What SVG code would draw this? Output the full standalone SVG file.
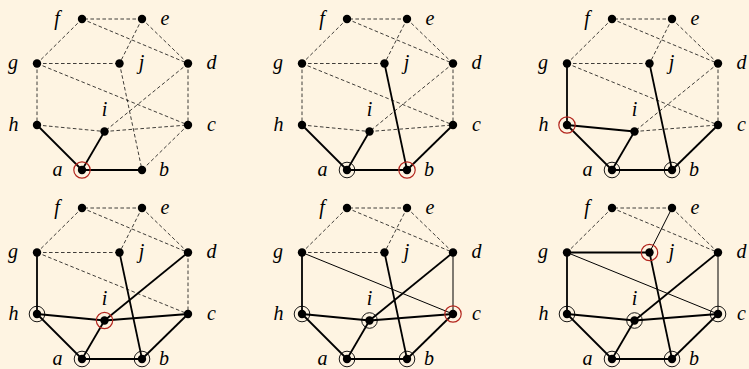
<svg xmlns="http://www.w3.org/2000/svg" width="749" height="369" viewBox="0 0 749 369">
<style>
.bg{fill:#FEF4E2}
.da{stroke:#000;stroke-width:0.75;stroke-dasharray:3.6 2.4;fill:none}
.tk{stroke:#000;stroke-width:1.8;fill:none}
.tn{stroke:#000;stroke-width:1;fill:none}
.dot{fill:#000}
.rb{fill:none;stroke:#000;stroke-width:0.9}
.rr{fill:none;stroke:#B3261E;stroke-width:1.2}
</style>
<rect class="bg" x="0" y="0" width="749" height="369"/>
<g font-family="Liberation Serif, Times New Roman, serif" font-style="italic" font-size="20" text-anchor="middle" fill="#000">

<!-- Panel 1 -->
<g id="panel1" transform="translate(0,0)">
<g id="p1-connectors">
<line class="da" x1="142" y1="19" x2="82" y2="19"/>
<line class="da" x1="82" y1="19" x2="37" y2="63.5"/>
<line class="da" x1="82" y1="19" x2="188" y2="63.5"/>
<line class="da" x1="142" y1="19" x2="119.5" y2="63.5"/>
<line class="da" x1="142" y1="19" x2="188" y2="63.5"/>
<line class="da" x1="37" y1="63.5" x2="119.5" y2="63.5"/>
<line class="da" x1="37" y1="63.5" x2="37" y2="125"/>
<line class="da" x1="37" y1="63.5" x2="188" y2="125"/>
<line class="da" x1="119.5" y1="63.5" x2="142" y2="170"/>
<line class="da" x1="188" y1="63.5" x2="104.5" y2="131.5"/>
<line class="da" x1="188" y1="63.5" x2="188" y2="125"/>
<line class="da" x1="37" y1="125" x2="104.5" y2="131.5"/>
<line class="da" x1="104.5" y1="131.5" x2="188" y2="125"/>
<line class="da" x1="188" y1="125" x2="142" y2="170"/>
<line class="tk" x1="82" y1="170" x2="37" y2="125"/>
<line class="tk" x1="82" y1="170" x2="104.5" y2="131.5"/>
<line class="tk" x1="82" y1="170" x2="142" y2="170"/>
</g>
<g id="p1-f"><circle class="dot" cx="82" cy="19" r="4.2"/><text x="57" y="25">f</text></g>
<g id="p1-e"><circle class="dot" cx="142" cy="19" r="4.2"/><text x="165" y="25">e</text></g>
<g id="p1-g"><circle class="dot" cx="37" cy="63.5" r="4.2"/><text x="13" y="69">g</text></g>
<g id="p1-j"><circle class="dot" cx="119.5" cy="63.5" r="4.2"/><text x="141.5" y="69">j</text></g>
<g id="p1-d"><circle class="dot" cx="188" cy="63.5" r="4.2"/><text x="211.5" y="69">d</text></g>
<g id="p1-h"><circle class="dot" cx="37" cy="125" r="4.2"/><text x="13.5" y="130.5">h</text></g>
<g id="p1-i"><circle class="dot" cx="104.5" cy="131.5" r="4.2"/><text x="104.5" y="115.5">i</text></g>
<g id="p1-c"><circle class="dot" cx="188" cy="125" r="4.2"/><text x="211.5" y="130.5">c</text></g>
<g id="p1-a"><circle class="dot" cx="82" cy="170" r="4.2"/><circle class="rr" cx="82" cy="170" r="8.2"/><text x="57.5" y="175.5">a</text></g>
<g id="p1-b"><circle class="dot" cx="142" cy="170" r="4.2"/><text x="164" y="175.5">b</text></g>
</g>

<!-- Panel 2 -->
<g id="panel2" transform="translate(265,0)">
<g id="p2-connectors">
<line class="da" x1="142" y1="19" x2="82" y2="19"/>
<line class="da" x1="82" y1="19" x2="37" y2="63.5"/>
<line class="da" x1="82" y1="19" x2="188" y2="63.5"/>
<line class="da" x1="142" y1="19" x2="119.5" y2="63.5"/>
<line class="da" x1="142" y1="19" x2="188" y2="63.5"/>
<line class="da" x1="37" y1="63.5" x2="119.5" y2="63.5"/>
<line class="da" x1="37" y1="63.5" x2="37" y2="125"/>
<line class="da" x1="37" y1="63.5" x2="188" y2="125"/>
<line class="da" x1="188" y1="63.5" x2="104.5" y2="131.5"/>
<line class="da" x1="188" y1="63.5" x2="188" y2="125"/>
<line class="da" x1="37" y1="125" x2="104.5" y2="131.5"/>
<line class="da" x1="104.5" y1="131.5" x2="188" y2="125"/>
<line class="tk" x1="119.5" y1="63.5" x2="142" y2="170"/>
<line class="tk" x1="188" y1="125" x2="142" y2="170"/>
<line class="tk" x1="82" y1="170" x2="37" y2="125"/>
<line class="tk" x1="82" y1="170" x2="104.5" y2="131.5"/>
<line class="tk" x1="82" y1="170" x2="142" y2="170"/>
</g>
<g id="p2-f"><circle class="dot" cx="82" cy="19" r="4.2"/><text x="57" y="25">f</text></g>
<g id="p2-e"><circle class="dot" cx="142" cy="19" r="4.2"/><text x="165" y="25">e</text></g>
<g id="p2-g"><circle class="dot" cx="37" cy="63.5" r="4.2"/><text x="13" y="69">g</text></g>
<g id="p2-j"><circle class="dot" cx="119.5" cy="63.5" r="4.2"/><text x="141.5" y="69">j</text></g>
<g id="p2-d"><circle class="dot" cx="188" cy="63.5" r="4.2"/><text x="211.5" y="69">d</text></g>
<g id="p2-h"><circle class="dot" cx="37" cy="125" r="4.2"/><text x="13.5" y="130.5">h</text></g>
<g id="p2-i"><circle class="dot" cx="104.5" cy="131.5" r="4.2"/><text x="104.5" y="115.5">i</text></g>
<g id="p2-c"><circle class="dot" cx="188" cy="125" r="4.2"/><text x="211.5" y="130.5">c</text></g>
<g id="p2-a"><circle class="dot" cx="82" cy="170" r="4.2"/><circle class="rb" cx="82" cy="170" r="7.8"/><text x="57.5" y="175.5">a</text></g>
<g id="p2-b"><circle class="dot" cx="142" cy="170" r="4.2"/><circle class="rr" cx="142" cy="170" r="8.2"/><text x="164" y="175.5">b</text></g>
</g>

<!-- Panel 3 -->
<g id="panel3" transform="translate(530,0)">
<g id="p3-connectors">
<line class="da" x1="142" y1="19" x2="82" y2="19"/>
<line class="da" x1="82" y1="19" x2="37" y2="63.5"/>
<line class="da" x1="82" y1="19" x2="188" y2="63.5"/>
<line class="da" x1="142" y1="19" x2="119.5" y2="63.5"/>
<line class="da" x1="142" y1="19" x2="188" y2="63.5"/>
<line class="da" x1="37" y1="63.5" x2="119.5" y2="63.5"/>
<line class="da" x1="37" y1="63.5" x2="188" y2="125"/>
<line class="da" x1="188" y1="63.5" x2="104.5" y2="131.5"/>
<line class="da" x1="188" y1="63.5" x2="188" y2="125"/>
<line class="da" x1="104.5" y1="131.5" x2="188" y2="125"/>
<line class="tk" x1="37" y1="63.5" x2="37" y2="125"/>
<line class="tk" x1="37" y1="125" x2="104.5" y2="131.5"/>
<line class="tk" x1="119.5" y1="63.5" x2="142" y2="170"/>
<line class="tk" x1="188" y1="125" x2="142" y2="170"/>
<line class="tk" x1="82" y1="170" x2="37" y2="125"/>
<line class="tk" x1="82" y1="170" x2="104.5" y2="131.5"/>
<line class="tk" x1="82" y1="170" x2="142" y2="170"/>
</g>
<g id="p3-f"><circle class="dot" cx="82" cy="19" r="4.2"/><text x="57" y="25">f</text></g>
<g id="p3-e"><circle class="dot" cx="142" cy="19" r="4.2"/><text x="165" y="25">e</text></g>
<g id="p3-g"><circle class="dot" cx="37" cy="63.5" r="4.2"/><text x="13" y="69">g</text></g>
<g id="p3-j"><circle class="dot" cx="119.5" cy="63.5" r="4.2"/><text x="141.5" y="69">j</text></g>
<g id="p3-d"><circle class="dot" cx="188" cy="63.5" r="4.2"/><text x="211.5" y="69">d</text></g>
<g id="p3-h"><circle class="dot" cx="37" cy="125" r="4.2"/><circle class="rr" cx="37" cy="125" r="8.2"/><text x="13.5" y="130.5">h</text></g>
<g id="p3-i"><circle class="dot" cx="104.5" cy="131.5" r="4.2"/><text x="104.5" y="115.5">i</text></g>
<g id="p3-c"><circle class="dot" cx="188" cy="125" r="4.2"/><text x="211.5" y="130.5">c</text></g>
<g id="p3-a"><circle class="dot" cx="82" cy="170" r="4.2"/><circle class="rb" cx="82" cy="170" r="7.8"/><text x="57.5" y="175.5">a</text></g>
<g id="p3-b"><circle class="dot" cx="142" cy="170" r="4.2"/><circle class="rb" cx="142" cy="170" r="7.8"/><text x="164" y="175.5">b</text></g>
</g>

<!-- Panel 4 -->
<g id="panel4" transform="translate(0,189)">
<g id="p4-connectors">
<line class="da" x1="142" y1="19" x2="82" y2="19"/>
<line class="da" x1="82" y1="19" x2="37" y2="63.5"/>
<line class="da" x1="82" y1="19" x2="188" y2="63.5"/>
<line class="da" x1="142" y1="19" x2="119.5" y2="63.5"/>
<line class="da" x1="142" y1="19" x2="188" y2="63.5"/>
<line class="da" x1="37" y1="63.5" x2="119.5" y2="63.5"/>
<line class="da" x1="37" y1="63.5" x2="188" y2="125"/>
<line class="da" x1="188" y1="63.5" x2="188" y2="125"/>
<line class="tk" x1="188" y1="63.5" x2="104.5" y2="131.5"/>
<line class="tk" x1="104.5" y1="131.5" x2="188" y2="125"/>
<line class="tk" x1="37" y1="63.5" x2="37" y2="125"/>
<line class="tk" x1="37" y1="125" x2="104.5" y2="131.5"/>
<line class="tk" x1="119.5" y1="63.5" x2="142" y2="170"/>
<line class="tk" x1="188" y1="125" x2="142" y2="170"/>
<line class="tk" x1="82" y1="170" x2="37" y2="125"/>
<line class="tk" x1="82" y1="170" x2="104.5" y2="131.5"/>
<line class="tk" x1="82" y1="170" x2="142" y2="170"/>
</g>
<g id="p4-f"><circle class="dot" cx="82" cy="19" r="4.2"/><text x="57" y="25">f</text></g>
<g id="p4-e"><circle class="dot" cx="142" cy="19" r="4.2"/><text x="165" y="25">e</text></g>
<g id="p4-g"><circle class="dot" cx="37" cy="63.5" r="4.2"/><text x="13" y="69">g</text></g>
<g id="p4-j"><circle class="dot" cx="119.5" cy="63.5" r="4.2"/><text x="141.5" y="69">j</text></g>
<g id="p4-d"><circle class="dot" cx="188" cy="63.5" r="4.2"/><text x="211.5" y="69">d</text></g>
<g id="p4-h"><circle class="dot" cx="37" cy="125" r="4.2"/><circle class="rb" cx="37" cy="125" r="7.8"/><text x="13.5" y="130.5">h</text></g>
<g id="p4-i"><circle class="dot" cx="104.5" cy="131.5" r="4.2"/><circle class="rr" cx="104.5" cy="131.5" r="8.2"/><text x="104.5" y="115.5">i</text></g>
<g id="p4-c"><circle class="dot" cx="188" cy="125" r="4.2"/><text x="211.5" y="130.5">c</text></g>
<g id="p4-a"><circle class="dot" cx="82" cy="170" r="4.2"/><circle class="rb" cx="82" cy="170" r="7.8"/><text x="57.5" y="175.5">a</text></g>
<g id="p4-b"><circle class="dot" cx="142" cy="170" r="4.2"/><circle class="rb" cx="142" cy="170" r="7.8"/><text x="164" y="175.5">b</text></g>
</g>

<!-- Panel 5 -->
<g id="panel5" transform="translate(265,189)">
<g id="p5-connectors">
<line class="da" x1="142" y1="19" x2="82" y2="19"/>
<line class="da" x1="82" y1="19" x2="37" y2="63.5"/>
<line class="da" x1="82" y1="19" x2="188" y2="63.5"/>
<line class="da" x1="142" y1="19" x2="119.5" y2="63.5"/>
<line class="da" x1="142" y1="19" x2="188" y2="63.5"/>
<line class="da" x1="37" y1="63.5" x2="119.5" y2="63.5"/>
<line class="tn" x1="37" y1="63.5" x2="188" y2="125"/>
<line class="tn" x1="188" y1="63.5" x2="188" y2="125"/>
<line class="tk" x1="188" y1="63.5" x2="104.5" y2="131.5"/>
<line class="tk" x1="104.5" y1="131.5" x2="188" y2="125"/>
<line class="tk" x1="37" y1="63.5" x2="37" y2="125"/>
<line class="tk" x1="37" y1="125" x2="104.5" y2="131.5"/>
<line class="tk" x1="119.5" y1="63.5" x2="142" y2="170"/>
<line class="tk" x1="188" y1="125" x2="142" y2="170"/>
<line class="tk" x1="82" y1="170" x2="37" y2="125"/>
<line class="tk" x1="82" y1="170" x2="104.5" y2="131.5"/>
<line class="tk" x1="82" y1="170" x2="142" y2="170"/>
</g>
<g id="p5-f"><circle class="dot" cx="82" cy="19" r="4.2"/><text x="57" y="25">f</text></g>
<g id="p5-e"><circle class="dot" cx="142" cy="19" r="4.2"/><text x="165" y="25">e</text></g>
<g id="p5-g"><circle class="dot" cx="37" cy="63.5" r="4.2"/><text x="13" y="69">g</text></g>
<g id="p5-j"><circle class="dot" cx="119.5" cy="63.5" r="4.2"/><text x="141.5" y="69">j</text></g>
<g id="p5-d"><circle class="dot" cx="188" cy="63.5" r="4.2"/><text x="211.5" y="69">d</text></g>
<g id="p5-h"><circle class="dot" cx="37" cy="125" r="4.2"/><circle class="rb" cx="37" cy="125" r="7.8"/><text x="13.5" y="130.5">h</text></g>
<g id="p5-i"><circle class="dot" cx="104.5" cy="131.5" r="4.2"/><circle class="rb" cx="104.5" cy="131.5" r="7.8"/><text x="104.5" y="115.5">i</text></g>
<g id="p5-c"><circle class="dot" cx="188" cy="125" r="4.2"/><circle class="rr" cx="188" cy="125" r="8.2"/><text x="211.5" y="130.5">c</text></g>
<g id="p5-a"><circle class="dot" cx="82" cy="170" r="4.2"/><circle class="rb" cx="82" cy="170" r="7.8"/><text x="57.5" y="175.5">a</text></g>
<g id="p5-b"><circle class="dot" cx="142" cy="170" r="4.2"/><circle class="rb" cx="142" cy="170" r="7.8"/><text x="164" y="175.5">b</text></g>
</g>

<!-- Panel 6 -->
<g id="panel6" transform="translate(530,189)">
<g id="p6-connectors">
<line class="da" x1="142" y1="19" x2="82" y2="19"/>
<line class="da" x1="82" y1="19" x2="37" y2="63.5"/>
<line class="da" x1="82" y1="19" x2="188" y2="63.5"/>
<line class="da" x1="142" y1="19" x2="188" y2="63.5"/>
<line class="tn" x1="142" y1="19" x2="119.5" y2="63.5"/>
<line class="tk" x1="37" y1="63.5" x2="119.5" y2="63.5"/>
<line class="tn" x1="37" y1="63.5" x2="188" y2="125"/>
<line class="tn" x1="188" y1="63.5" x2="188" y2="125"/>
<line class="tk" x1="188" y1="63.5" x2="104.5" y2="131.5"/>
<line class="tk" x1="104.5" y1="131.5" x2="188" y2="125"/>
<line class="tk" x1="37" y1="63.5" x2="37" y2="125"/>
<line class="tk" x1="37" y1="125" x2="104.5" y2="131.5"/>
<line class="tk" x1="119.5" y1="63.5" x2="142" y2="170"/>
<line class="tk" x1="188" y1="125" x2="142" y2="170"/>
<line class="tk" x1="82" y1="170" x2="37" y2="125"/>
<line class="tk" x1="82" y1="170" x2="104.5" y2="131.5"/>
<line class="tk" x1="82" y1="170" x2="142" y2="170"/>
</g>
<g id="p6-f"><circle class="dot" cx="82" cy="19" r="4.2"/><text x="57" y="25">f</text></g>
<g id="p6-e"><circle class="dot" cx="142" cy="19" r="4.2"/><text x="165" y="25">e</text></g>
<g id="p6-g"><circle class="dot" cx="37" cy="63.5" r="4.2"/><text x="13" y="69">g</text></g>
<g id="p6-j"><circle class="dot" cx="119.5" cy="63.5" r="4.2"/><circle class="rr" cx="119.5" cy="63.5" r="8.2"/><text x="141.5" y="69">j</text></g>
<g id="p6-d"><circle class="dot" cx="188" cy="63.5" r="4.2"/><text x="211.5" y="69">d</text></g>
<g id="p6-h"><circle class="dot" cx="37" cy="125" r="4.2"/><circle class="rb" cx="37" cy="125" r="7.8"/><text x="13.5" y="130.5">h</text></g>
<g id="p6-i"><circle class="dot" cx="104.5" cy="131.5" r="4.2"/><circle class="rb" cx="104.5" cy="131.5" r="7.8"/><text x="104.5" y="115.5">i</text></g>
<g id="p6-c"><circle class="dot" cx="188" cy="125" r="4.2"/><circle class="rb" cx="188" cy="125" r="7.8"/><text x="211.5" y="130.5">c</text></g>
<g id="p6-a"><circle class="dot" cx="82" cy="170" r="4.2"/><circle class="rb" cx="82" cy="170" r="7.8"/><text x="57.5" y="175.5">a</text></g>
<g id="p6-b"><circle class="dot" cx="142" cy="170" r="4.2"/><circle class="rb" cx="142" cy="170" r="7.8"/><text x="164" y="175.5">b</text></g>
</g>
</g>
</svg>
